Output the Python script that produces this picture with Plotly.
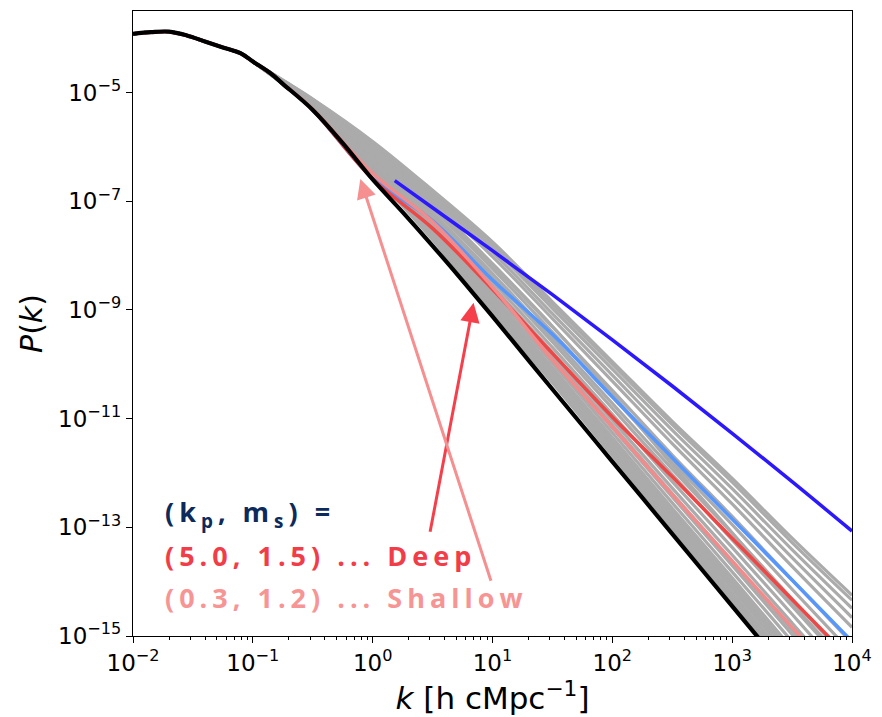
import plotly.graph_objects as go

# ---- data: log10 k nodes and log10 P(k) values ----
# shared large-scale part (all models coincide here)
logk_low = [-2.00, -1.85, -1.70, -1.55, -1.40, -1.25, -1.10]
logp_low = [-3.92, -3.89, -3.88, -3.95, -4.06, -4.17, -4.28]

# fiducial (black) spectrum beyond the shared part
logk_fid = [-1.00, -0.85, -0.75, -0.50, -0.25, 0.00, 0.25, 0.50, 0.75, 1.00, 1.25,
            1.50, 2.00, 2.50, 3.00, 3.50]
logp_fid = [-4.43, -4.65, -4.84, -5.32, -5.93, -6.60, -7.20, -7.82, -8.46, -9.12, -9.79,
            -10.46, -11.79, -13.12, -14.45, -15.78]

# nodes used by the gray model family
logk_mod = [-1.0, -0.5, 0.0, 0.5, 1.0, 1.5, 2.0, 2.5, 3.0, 3.5, 4.0]

gray_models = [
    [-4.43, -5.29, -6.48, -7.71, -9.05, -10.34, -11.68, -13.02, -14.36, -15.70, -17.08],
    [-4.43, -5.29, -6.46, -7.68, -9.01, -10.29, -11.62, -12.96, -14.29, -15.62, -16.99],
    [-4.43, -5.28, -6.44, -7.66, -8.97, -10.25, -11.57, -12.90, -14.22, -15.54, -16.91],
    [-4.43, -5.28, -6.42, -7.63, -8.92, -10.20, -11.52, -12.83, -14.14, -15.46, -16.82],
    [-4.43, -5.27, -6.40, -7.60, -8.88, -10.15, -11.46, -12.77, -14.07, -15.38, -16.73],
    [-4.43, -5.27, -6.39, -7.57, -8.84, -10.11, -11.41, -12.71, -14.00, -15.31, -16.64],
    [-4.43, -5.26, -6.37, -7.54, -8.80, -10.06, -11.35, -12.65, -13.93, -15.23, -16.55],
    [-4.43, -5.25, -6.34, -7.49, -8.74, -9.98, -11.26, -12.55, -13.82, -15.10, -16.40],
    [-4.43, -5.24, -6.31, -7.45, -8.67, -9.90, -11.17, -12.44, -13.70, -14.97, -16.26],
    [-4.43, -5.24, -6.29, -7.42, -8.63, -9.86, -11.12, -12.38, -13.63, -14.89, -16.17],
    [-4.43, -5.23, -6.26, -7.37, -8.56, -9.78, -11.03, -12.28, -13.51, -14.76, -16.02],
    [-4.43, -5.22, -6.22, -7.31, -8.48, -9.69, -10.92, -12.16, -13.37, -14.60, -15.84],
    [-4.43, -5.21, -6.19, -7.26, -8.40, -9.59, -10.81, -12.03, -13.23, -14.45, -15.67],
    [-4.43, -5.20, -6.16, -7.21, -8.33, -9.52, -10.72, -11.93, -13.11, -14.32, -15.52],
    [-4.43, -5.17, -6.05, -7.05, -8.15, -9.30, -10.55, -11.85, -13.10, -14.40, -15.62],
    [-4.43, -5.19, -6.12, -7.14, -8.24, -9.41, -10.60, -11.79, -12.95, -14.14, -15.31],
    [-4.43, -5.18, -6.08, -7.09, -8.17, -9.31, -10.48, -11.67, -12.80, -13.97, -15.13],
    [-4.43, -5.16, -6.02, -6.99, -8.02, -9.16, -10.31, -11.46, -12.57, -13.72, -14.84],
    [-4.43, -5.15, -5.98, -6.93, -7.94, -9.07, -10.20, -11.34, -12.43, -13.56, -14.66],
    [-4.43, -5.13, -5.95, -6.88, -7.86, -8.97, -10.09, -11.21, -12.29, -13.41, -14.49],
    [-4.43, -5.13, -5.92, -6.83, -7.79, -8.90, -10.00, -11.11, -12.17, -13.28, -14.34],
    [-4.43, -5.12, -5.90, -6.80, -7.75, -8.85, -9.95, -11.05, -12.10, -13.20, -14.25],
]

# highlighted models follow the fiducial curve up to k ~ 0.2, then these nodes
logk_col = [-0.5, 0.0, 0.5, 1.0, 1.5, 2.0, 2.5, 3.0, 3.5, 4.0]
logp_shallow = [-5.31, -6.49, -7.38, -8.58, -9.92, -11.15, -12.40, -13.62, -14.84, -16.05]
logp_deep = [-5.32, -6.59, -7.50, -8.62, -9.80, -10.97, -12.07, -13.20, -14.33, -15.45]
logp_lightblue = [-5.32, -6.58, -7.36, -8.45, -9.45, -10.60, -11.72, -12.85, -13.97, -15.10]

logk_blue = [0.184, 0.5, 1.0, 1.5, 2.0, 2.5, 3.0, 3.5, 4.0]
logp_blue = [-6.62, -7.12, -7.91, -8.72, -9.55, -10.40, -11.27, -12.16, -13.07]

# arrows: (tail log10 k, tail log10 P, head log10 k, head log10 P)
arrow_deep = (0.477, -13.11, 0.842, -8.87)
arrow_shallow = (0.991, -14.01, -0.103, -6.59)

x_decades = [-2, -1, 0, 1, 2, 3, 4]
y_decades = [-5, -7, -9, -11, -13, -15]

GRAY = "#ababab"
PINK = "#f28b8b"
RED = "#ef4646"
LBLUE = "#5597ff"
BLUE = "#2c18ff"


def to_lin(vals):
    return [10 ** v for v in vals]


def sup(e):
    return "10<sup>" + str(e).replace("-", "\u2212") + "</sup>"


fig = go.Figure()


def add_curve(lk, lp, color, width):
    fig.add_trace(go.Scatter(
        x=to_lin(lk), y=to_lin(lp), mode="lines",
        line=dict(color=color, width=width, shape="spline", smoothing=1.0),
        hoverinfo="skip", showlegend=False))


for g in gray_models:
    add_curve(logk_low + logk_mod, logp_low + g, GRAY, 3.2)

# shared prefix for the highlighted models: large scales + first fiducial nodes
pre_k = logk_low + logk_fid[:3]
pre_p = logp_low + logp_fid[:3]
add_curve(pre_k + logk_col, pre_p + logp_lightblue, LBLUE, 3.5)
add_curve(pre_k + logk_col, pre_p + logp_deep, RED, 3.5)
add_curve(pre_k + logk_col, pre_p + logp_shallow, PINK, 3.5)
add_curve(logk_blue, logp_blue, BLUE, 3.5)
add_curve(logk_low + logk_fid, logp_low + logp_fid, "black", 4.2)

# arrows
for (tx, ty, hx, hy), col in [(arrow_deep, "#f5404c"), (arrow_shallow, "#f68f8f")]:
    fig.add_annotation(x=hx, y=hy, ax=tx, ay=ty, xref="x", yref="y",
                       axref="x", ayref="y", text="", showarrow=True,
                       arrowhead=2, arrowsize=1.3, arrowwidth=3, arrowcolor=col)

# parameter labels
lines = [
    ("(k<sub>p</sub>, m<sub>s</sub>) =", "#0c2a5b", 0.196),
    ("(5.0, 1.5) ... Deep", "#f23c48", 0.129),
    ("(0.3, 1.2) ... Shallow", "#f79494", 0.062),
]
for txt, col, yy in lines:
    fig.add_annotation(x=0.042, y=yy, xref="paper", yref="paper", text="<b>" + txt + "</b>",
                       showarrow=False, xanchor="left", yanchor="middle", align="left",
                       font=dict(family="Open Sans", size=27, color=col))

minor_x = [m * 10 ** d for d in range(-2, 4) for m in range(2, 10)]

fig.update_xaxes(
    type="log", range=[-2, 4], showgrid=False, zeroline=False,
    showline=True, linecolor="black", linewidth=1.3, mirror=True,
    ticks="outside", ticklen=6, tickwidth=1.2, tickcolor="black",
    tickvals=[10 ** d for d in x_decades], ticktext=[sup(d) for d in x_decades],
    tickfont=dict(family="DejaVu Sans", size=23, color="black"),
    minor=dict(ticks="outside", ticklen=3, tickwidth=1, tickcolor="black",
               tickvals=minor_x, showgrid=False),
    title=dict(text="<i>k</i> [h cMpc<sup>\u22121</sup>]",
               font=dict(family="DejaVu Sans", size=31, color="black"), standoff=4),
)
fig.update_yaxes(
    type="log", range=[-15, -3.5], showgrid=False, zeroline=False,
    showline=True, linecolor="black", linewidth=1.3, mirror=True,
    ticks="outside", ticklen=6, tickwidth=1.2, tickcolor="black",
    tickvals=[10 ** d for d in y_decades], ticktext=[sup(d) for d in y_decades],
    tickfont=dict(family="DejaVu Sans", size=23, color="black"),
    title=dict(text="<i>P</i>(<i>k</i>)",
               font=dict(family="DejaVu Sans", size=30, color="black"), standoff=6),
)

fig.update_layout(
    width=882, height=717, margin=dict(l=133, r=25, t=10, b=81),
    plot_bgcolor="white", paper_bgcolor="white", showlegend=False,
)

# widen the tracking of the parameter labels
spacing_js = """
document.querySelectorAll('.annotation-text').forEach(function (t) {
    if (t.textContent.trim().length > 0) { t.style.letterSpacing = '5px'; }
});
"""

fig.write_html("out.html", post_script=spacing_js)
